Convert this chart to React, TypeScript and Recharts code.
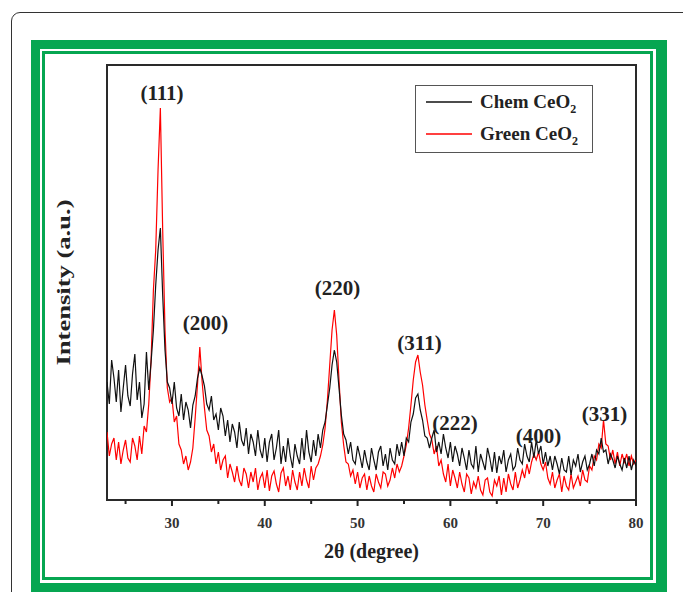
import React from "react";
import { LineChart, Line, XAxis, YAxis, ReferenceArea, ReferenceDot, Legend } from "recharts";

// 2θ grid (degree), read every 0.25°
const THETA = [
  23, 23.25, 23.5, 23.75, 24, 24.25, 24.5, 24.75,
  25, 25.25, 25.5, 25.75, 26, 26.25, 26.5, 26.75,
  27, 27.25, 27.5, 27.75, 28, 28.25, 28.5, 28.75,
  29, 29.25, 29.5, 29.75, 30, 30.25, 30.5, 30.75,
  31, 31.25, 31.5, 31.75, 32, 32.25, 32.5, 32.75,
  33, 33.25, 33.5, 33.75, 34, 34.25, 34.5, 34.75,
  35, 35.25, 35.5, 35.75, 36, 36.25, 36.5, 36.75,
  37, 37.25, 37.5, 37.75, 38, 38.25, 38.5, 38.75,
  39, 39.25, 39.5, 39.75, 40, 40.25, 40.5, 40.75,
  41, 41.25, 41.5, 41.75, 42, 42.25, 42.5, 42.75,
  43, 43.25, 43.5, 43.75, 44, 44.25, 44.5, 44.75,
  45, 45.25, 45.5, 45.75, 46, 46.25, 46.5, 46.75,
  47, 47.25, 47.5, 47.75, 48, 48.25, 48.5, 48.75,
  49, 49.25, 49.5, 49.75, 50, 50.25, 50.5, 50.75,
  51, 51.25, 51.5, 51.75, 52, 52.25, 52.5, 52.75,
  53, 53.25, 53.5, 53.75, 54, 54.25, 54.5, 54.75,
  55, 55.25, 55.5, 55.75, 56, 56.25, 56.5, 56.75,
  57, 57.25, 57.5, 57.75, 58, 58.25, 58.5, 58.75,
  59, 59.25, 59.5, 59.75, 60, 60.25, 60.5, 60.75,
  61, 61.25, 61.5, 61.75, 62, 62.25, 62.5, 62.75,
  63, 63.25, 63.5, 63.75, 64, 64.25, 64.5, 64.75,
  65, 65.25, 65.5, 65.75, 66, 66.25, 66.5, 66.75,
  67, 67.25, 67.5, 67.75, 68, 68.25, 68.5, 68.75,
  69, 69.25, 69.5, 69.75, 70, 70.25, 70.5, 70.75,
  71, 71.25, 71.5, 71.75, 72, 72.25, 72.5, 72.75,
  73, 73.25, 73.5, 73.75, 74, 74.25, 74.5, 74.75,
  75, 75.25, 75.5, 75.75, 76, 76.25, 76.5, 76.75,
  77, 77.25, 77.5, 77.75, 78, 78.25, 78.5, 78.75,
  79, 79.25, 79.5, 79.75, 80,
];

// Chem CeO2 intensity (a.u.)
const CHEM = [
  118, 96, 140, 122, 98, 130, 88, 112,
  135, 104, 94, 126, 146, 100, 118, 82,
  96, 148, 110, 138, 170, 215, 250, 272,
  205, 150, 118, 112, 96, 118, 92, 84,
  106, 80, 98, 90, 72, 95, 104, 122,
  132, 124, 114, 96, 90, 104, 80, 86,
  70, 92, 84, 64, 80, 58, 76, 68,
  52, 78, 60, 54, 72, 46, 66, 58,
  44, 70, 50, 42, 62, 38, 58, 66,
  40, 52, 70, 36, 54, 38, 62, 44,
  32, 56, 44, 36, 62, 40, 70, 48,
  38, 60, 44, 66, 52, 70, 78, 95,
  112, 135, 150, 138, 112, 85, 66, 60,
  46, 58, 40, 36, 54, 44, 32, 50,
  38, 30, 52, 40, 30, 48, 54, 34,
  46, 30, 52, 40, 36, 56, 44, 58,
  44, 62, 58, 78, 86, 102, 106, 90,
  80, 64, 62, 52, 62, 70, 48, 58,
  46, 66, 52, 42, 58, 38, 54, 46,
  34, 52, 42, 30, 50, 36, 32, 54,
  28, 46, 38, 30, 52, 42, 28, 48,
  27, 44, 36, 50, 28, 40, 46, 30,
  34, 52, 40, 36, 56, 44, 38, 58,
  42, 60, 46, 54, 36, 48, 34, 44,
  30, 44, 36, 26, 42, 30, 28, 44,
  25, 40, 34, 46, 28, 38, 44, 30,
  36, 46, 34, 50, 46, 62, 48, 50,
  36, 46, 40, 32, 44, 36, 30, 42,
  32, 44, 30, 40, 34,
];

// Green CeO2 intensity (a.u.)
const GREEN = [
  68, 44, 56, 62, 40, 58, 36, 50,
  60, 42, 38, 62, 54, 40, 64, 46,
  74, 68, 96, 140, 210, 250, 330, 392,
  270, 170, 112, 98, 102, 78, 84, 56,
  50, 36, 44, 30, 38, 52, 82, 115,
  153, 118, 92, 70, 64, 48, 56, 36,
  48, 30, 40, 44, 22, 36, 28, 18,
  34, 20, 14, 32, 26, 12, 28, 18,
  32, 10, 22, 27, 12, 30, 9, 24,
  29, 16, 8, 27, 32, 14, 24, 10,
  30, 18, 10, 28, 14, 32, 20, 12,
  34, 20, 32, 36, 44, 55, 72, 100,
  135, 170, 190, 165, 120, 78, 55, 38,
  36, 24, 30, 16, 28, 12, 22, 26,
  10, 24, 14, 8, 26, 18, 12, 28,
  26, 14, 20, 32, 22, 36, 28, 34,
  44, 55, 72, 95, 120, 138, 145, 128,
  115, 95, 80, 66, 60, 46, 54, 34,
  40, 26, 18, 36, 14, 30, 22, 12,
  28, 16, 8, 26, 22, 6, 18, 12,
  24, 10, 5, 20, 22, 8, 4, 20,
  14, 24, 5, 22, 8, 26, 16, 10,
  28, 12, 20, 30, 22, 36, 26, 38,
  46, 40, 48, 36, 30, 38, 22, 16,
  28, 12, 20, 26, 8, 24, 14, 10,
  26, 12, 18, 24, 14, 30, 20, 18,
  34, 30, 44, 40, 56, 52, 80, 56,
  54, 40, 50, 36, 48, 34, 46, 38,
  46, 34, 44, 36, 40,
];

const X_TICKS = [25, 30, 35, 40, 45, 50, 55, 60, 65, 70, 75, 80];
const X_LABELED = [30, 40, 50, 60, 70, 80];

const PEAK_NAMES = ["(111)", "(200)", "(220)", "(311)", "(222)", "(400)", "(331)"];
const PEAK_X = [28.93, 33.61, 47.84, 56.67, 60.5, 69.5, 76.61];
const PEAK_Y = [407, 177, 212, 157, 77, 64, 86];

const SERIES_NAMES = ["Chem CeO", "Green CeO"];
const SERIES_COLORS = ["#111111", "#ff0000"];

const FRAME_GREEN = "#06a651";
const SERIF = '"Liberation Serif", "Times New Roman", serif';
const boldText = { fontFamily: SERIF, fontWeight: 700, fill: "#222" };

const data = THETA.map((t, i) => ({ theta: t, chem: CHEM[i], green: GREEN[i] }));

// chart box: plot area 107..636 x 65..500
const W = 683;
const H = 592;

function XTick(props: any) {
  const { x, y, payload } = props;
  const major = X_LABELED.includes(payload.value);
  return (
    <g>
      <line x1={x} x2={x} y1={y} y2={y + (major ? 6 : 4)} stroke="#222" strokeWidth={2} />
      {major && (
        <text x={x} y={y + 28} textAnchor="middle" style={{ ...boldText, fontSize: 15, fill: "#333" }}>
          {payload.value}
        </text>
      )}
    </g>
  );
}

const renderYTitle = (props: any) => {
  const vb = props?.viewBox ?? {};
  const cy = (vb.y ?? 65) + (vb.height ?? 435) / 2;
  const cx = 63;
  return (
    <text
      x={cx}
      y={cy}
      textAnchor="middle"
      dominantBaseline="central"
      textLength={166}
      lengthAdjust="spacingAndGlyphs"
      transform={`rotate(-90 ${cx} ${cy})`}
      style={{ ...boldText, fontSize: 19 }}
    >
      Intensity (a.u.)
    </text>
  );
};

const renderXTitle = (props: any) => {
  const vb = props?.viewBox ?? {};
  const cx = (vb.x ?? 107) + (vb.width ?? 529) / 2;
  return (
    <text x={cx} y={558} textAnchor="middle" style={{ ...boldText, fontSize: 20 }}>
      2θ (degree)
    </text>
  );
};

const peakLabel = (name: string) => (props: any) => {
  const vb = props?.viewBox ?? {};
  const x = (vb.x ?? 0) + (vb.width ?? 0) / 2;
  const y = (vb.y ?? 0) + (vb.height ?? 0) / 2;
  return (
    <text x={x} y={y} textAnchor="middle" dominantBaseline="central" style={{ ...boldText, fontSize: 21 }}>
      {name}
    </text>
  );
};

const renderLegend = () => (
  <div
    style={{
      width: 178,
      height: 68,
      boxSizing: "border-box",
      border: "1.5px solid #555",
      background: "#fff",
    }}
  >
    <svg width={175} height={65} style={{ display: "block" }}>
      {SERIES_NAMES.map((name, i) => (
        <g key={name}>
          <line x1={10} x2={56} y1={16 + i * 32} y2={16 + i * 32} stroke={SERIES_COLORS[i]} strokeWidth={1.5} />
          <text x={64} y={22 + i * 32} style={{ ...boldText, fontSize: 19 }}>
            {name}
            <tspan dy={5} fontSize={12}>2</tspan>
          </text>
        </g>
      ))}
    </svg>
  </div>
);

export default function App() {
  return (
    <div style={{ position: "fixed", left: 0, top: 0, width: W, height: H, overflow: "hidden", background: "#fff" }}>
      <div
        style={{
          position: "absolute",
          left: 11,
          top: 12,
          width: 680,
          height: 640,
          border: "1.5px solid #333",
          borderRadius: 9,
        }}
      />
      <div style={{ position: "absolute", left: 31, top: 40, width: 636, height: 600, background: FRAME_GREEN }} />
      <div style={{ position: "absolute", left: 40, top: 49, width: 616, height: 534, background: "#fff" }} />
      <div
        style={{
          position: "absolute",
          left: 42,
          top: 51,
          width: 611,
          height: 529,
          boxSizing: "border-box",
          border: `3px solid ${FRAME_GREEN}`,
          background: "#fff",
        }}
      />
      <div style={{ position: "absolute", left: 0, top: 0 }}>
        <LineChart width={W} height={H} data={data} margin={{ top: 65, right: 47, bottom: 62, left: 62 }}>
          <XAxis
            dataKey="theta"
            type="number"
            domain={[23, 80]}
            ticks={X_TICKS}
            allowDataOverflow
            height={30}
            axisLine={false}
            tickLine={false}
            tickSize={0}
            tickMargin={0}
            tick={<XTick />}
            interval={0}
            label={renderXTitle}
          />
          <YAxis
            type="number"
            domain={[0, 435]}
            allowDataOverflow
            width={45}
            tick={false}
            tickLine={false}
            axisLine={false}
            label={renderYTitle}
          />
          <Legend
            layout="horizontal"
            verticalAlign="middle"
            align="center"
            content={renderLegend}
            wrapperStyle={{ left: 415, top: 85, width: 178, height: 68 }}
          />
          <Line
            type="linear"
            dataKey="green"
            stroke={SERIES_COLORS[1]}
            strokeWidth={1.2}
            dot={false}
            isAnimationActive={false}
          />
          <Line
            type="linear"
            dataKey="chem"
            stroke={SERIES_COLORS[0]}
            strokeWidth={1.2}
            dot={false}
            isAnimationActive={false}
          />
          {PEAK_NAMES.map((name, i) => (
            <ReferenceDot
              key={name}
              x={PEAK_X[i]}
              y={PEAK_Y[i]}
              r={0}
              fill="none"
              stroke="none"
              label={peakLabel(name)}
            />
          ))}
          <ReferenceArea x1={23} x2={80} y1={0} y2={435} fill="none" stroke="#2a2a2a" strokeWidth={2} />
        </LineChart>
      </div>
    </div>
  );
}
